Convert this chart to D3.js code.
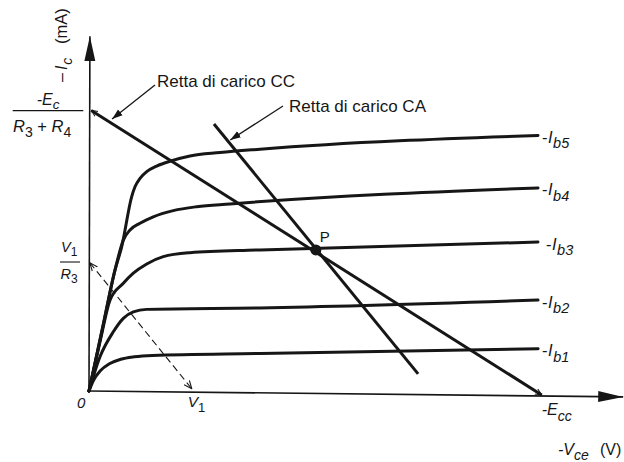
<!DOCTYPE html>
<html>
<head>
<meta charset="utf-8">
<script src="https://cdn.jsdelivr.net/npm/d3@7"></script>
<style>
  html, body { margin: 0; padding: 0; background: #fff; }
  svg { display: block; }
  text { font-family: "Liberation Sans", Arial, Helvetica, sans-serif; fill: #161616; }
</style>
</head>
<body>
<div id="chart"></div>
<script>
// ---------- data (x = -Vce, y = -Ic, arbitrary units) ----------
const curveNames = ["b1", "b2", "b3", "b4", "b5"];
const ib1 = [[0,0],[0.10,0.38],[0.25,0.72],[0.45,0.97],[0.70,1.13],[1.00,1.22],[1.40,1.27],[3.78,1.34],[9.92,1.51]];
const ib2 = [[0,0],[0.243,1.22],[0.537,2.11],[0.758,2.59],[0.979,2.82],[1.275,2.91],[3.777,2.96],[9.918,3.24]];
const ib3 = [[0,0],[0.25,1.80],[0.464,3.24],[0.758,3.84],[0.979,4.20],[1.275,4.53],[1.641,4.79],[2.231,4.93],[3.777,5.03],[9.918,5.31]];
const ib4 = [[0,0],[0.30,2.25],[0.574,4.31],[0.758,5.38],[0.906,5.74],[1.127,5.98],[1.42,6.21],[1.862,6.43],[2.379,6.57],[3.115,6.67],[9.918,7.24]];
const ib5 = [[0,0],[0.30,2.25],[0.574,4.31],[0.722,5.14],[0.943,6.93],[1.016,7.28],[1.127,7.58],[1.275,7.82],[1.495,8.02],[1.827,8.21],[2.231,8.38],[2.894,8.50],[3.777,8.62],[9.918,9.11]];
const curves = [ib1, ib2, ib3, ib4, ib5];

const loadLineCC = [[0.05,10.0],[10.0,-0.14]];   // retta di carico CC
const loadLineCA = [[2.76,9.52],[7.27,0.61]];    // retta di carico CA
const pointP = [5.01, 5.03];
const dashedV1 = [[0.02,4.57],[2.27,0.08]];
const xAxisPts = [[0,0],[11.8,-0.21]];
const yAxisPts = [[0,0],[0.02,12.65]];
const pointerCC = [[1.458,10.91],[0.51,9.70]];
const pointerCA = [[4.285,10.16],[3.12,8.95]];

const annotationTexts = ["Retta di carico CC", "Retta di carico CA"];
const xTickLabels = ["0", "V", "-E"];

// ---------- layout ----------
const W = 624, H = 462;
const x = d3.scaleLinear().domain([0, 10]).range([89, 541.7]);
const y = d3.scaleLinear().domain([0, 10]).range([391, 110.5]);
const ink = "#161616";

const svg = d3.select("#chart").append("svg").attr("width", W).attr("height", H);
svg.append("rect").attr("width", W).attr("height", H).attr("fill", "#fff");

const defs = svg.append("defs");
defs.append("marker").attr("id", "axisHead")
  .attr("markerUnits", "userSpaceOnUse").attr("viewBox", "0 -7 26 14")
  .attr("markerWidth", 26).attr("markerHeight", 14).attr("refX", 25).attr("refY", 0)
  .attr("orient", "auto")
  .append("path").attr("d", "M0,-5.5L25,0L0,5.5Z").attr("fill", ink);
defs.append("marker").attr("id", "ptrHead")
  .attr("markerUnits", "userSpaceOnUse").attr("viewBox", "0 -5 11 10")
  .attr("markerWidth", 11).attr("markerHeight", 10).attr("refX", 10.5).attr("refY", 0)
  .attr("orient", "auto")
  .append("path").attr("d", "M0,-3.6L10.5,0L0,3.6Z").attr("fill", ink);
defs.append("marker").attr("id", "dashHead")
  .attr("markerUnits", "userSpaceOnUse").attr("viewBox", "0 -5 9 10")
  .attr("markerWidth", 9).attr("markerHeight", 10).attr("refX", 8).attr("refY", 0)
  .attr("orient", "auto-start-reverse")
  .append("path").attr("d", "M0,-3.4L8,0L0,3.4").attr("fill", "none").attr("stroke", ink).attr("stroke-width", 1.1);
defs.append("marker").attr("id", "tinyHead")
  .attr("markerUnits", "userSpaceOnUse").attr("viewBox", "0 -4 7 8")
  .attr("markerWidth", 7).attr("markerHeight", 8).attr("refX", 6.5).attr("refY", 0)
  .attr("orient", "auto-start-reverse")
  .append("path").attr("d", "M0,-3L6.5,0L0,3").attr("fill", "none").attr("stroke", ink).attr("stroke-width", 1);

const line = d3.line().x(d => x(d[0])).y(d => y(d[1]));
const smooth = d3.line().x(d => x(d[0])).y(d => y(d[1])).curve(d3.curveMonotoneX);

// axes
svg.append("path").attr("d", line(xAxisPts)).attr("stroke", ink).attr("stroke-width", 1.6)
  .attr("fill", "none").attr("marker-end", "url(#axisHead)");
svg.append("path").attr("d", line(yAxisPts)).attr("stroke", ink).attr("stroke-width", 1.6)
  .attr("fill", "none").attr("marker-end", "url(#axisHead)");

// dashed V1 line
svg.append("path").attr("d", line(dashedV1)).attr("stroke", ink).attr("stroke-width", 1.1)
  .attr("stroke-dasharray", "7,4").attr("fill", "none")
  .attr("marker-start", "url(#dashHead)").attr("marker-end", "url(#dashHead)");

// characteristic curves
svg.selectAll("path.curve").data(curves).enter().append("path")
  .attr("class", "curve").attr("d", smooth)
  .attr("fill", "none").attr("stroke", ink).attr("stroke-width", 3)
  .attr("stroke-linejoin", "round").attr("stroke-linecap", "round");

// load lines
svg.append("path").attr("d", line(loadLineCC)).attr("fill", "none").attr("stroke", ink)
  .attr("stroke-width", 3).attr("stroke-linecap", "butt");
svg.append("path").attr("d", line(loadLineCC)).attr("fill", "none").attr("stroke", "none")
  .attr("marker-start", "url(#tinyHead)").attr("marker-end", "url(#tinyHead)");
svg.append("path").attr("d", line(loadLineCA)).attr("fill", "none").attr("stroke", ink)
  .attr("stroke-width", 3).attr("stroke-linecap", "butt");

// operating point
svg.append("circle").attr("cx", x(pointP[0])).attr("cy", y(pointP[1])).attr("r", 5.5).attr("fill", ink);
svg.append("text").attr("x", x(pointP[0]) + 4).attr("y", y(pointP[1]) - 7.5)
  .attr("font-size", 15).text("P");

// pointers + annotation text
[pointerCC, pointerCA].forEach(p => {
  svg.append("path").attr("d", line(p)).attr("fill", "none").attr("stroke", ink)
    .attr("stroke-width", 1.3).attr("marker-end", "url(#ptrHead)");
});
svg.append("text").attr("x", x(pointerCC[0][0]) + 2).attr("y", y(pointerCC[0][1]) + 2)
  .attr("font-size", 17).text(annotationTexts[0]);
svg.append("text").attr("x", x(pointerCA[0][0]) + 6).attr("y", y(pointerCA[0][1]) + 6)
  .attr("font-size", 17).text(annotationTexts[1]);

// helper for labels with subscripts
function mathText(px, py, size, parts, anchor) {
  const t = svg.append("text").attr("x", px).attr("y", py).attr("font-size", size)
    .attr("text-anchor", anchor || "start");
  parts.forEach(p => {
    const s = t.append("tspan").text(p.t);
    if (p.i) s.attr("font-style", "italic");
    if (p.fs) s.attr("font-size", p.fs);
    if (p.dy) s.attr("dy", p.dy);
    if (p.dx) s.attr("dx", p.dx);
  });
  return t;
}

// curve labels -I_bn
curves.forEach((c, k) => {
  const end = c[c.length - 1];
  const dx = k === 2 ? 8 : 4;
  mathText(x(end[0]) + dx, y(end[1]) + 7.5, 16.5, [
    { t: "-" }, { t: "I", i: true, dx: 0.5 }, { t: curveNames[k], i: true, fs: 14.5, dy: 5.5, dx: 0.5 }
  ]);
});

// x-axis labels
mathText(x(0) - 12, 408, 15, [{ t: xTickLabels[0], i: true }]);
mathText(x(dashedV1[1][0]) - 4, 407, 15.5, [{ t: xTickLabels[1], i: true }, { t: "1", fs: 13, dy: 5 }]);
mathText(x(loadLineCC[1][0]), 415, 16, [{ t: xTickLabels[2], i: true }, { t: "cc", i: true, fs: 14, dy: 5.5 }]);
mathText(558, 455, 16, [{ t: "-V", i: true }, { t: "ce", i: true, fs: 14, dy: 4.5 }]);
mathText(600, 455, 16, [{ t: "(V)" }]);

// y-axis label (rotated)
const yl = svg.append("text").attr("transform", "translate(67,82) rotate(-90)").attr("font-size", 16);
yl.append("tspan").text("–");
yl.append("tspan").text("I").attr("font-style", "italic").attr("dx", 3);
yl.append("tspan").text("c").attr("font-style", "italic").attr("font-size", 14).attr("dy", 4.5).attr("dx", 1);
svg.append("text").attr("transform", "translate(67,44) rotate(-90)").attr("font-size", 16.5).text("(mA)");

// -Ec / (R3 + R4)
mathText(48, 105, 16, [{ t: "-E", i: true }, { t: "c", i: true, fs: 13.5, dy: 4 }], "middle");
svg.append("line").attr("x1", 12.7).attr("x2", 83.3).attr("y1", y(10) + 0.2).attr("y2", y(10) + 0.2)
  .attr("stroke", ink).attr("stroke-width", 1.2);
mathText(13, 131.5, 16.5, [
  { t: "R", i: true }, { t: "3", fs: 14, dy: 5 }, { t: " + ", dy: -5 },
  { t: "R", i: true }, { t: "4", fs: 14, dy: 5 }
]);

// V1 / R3
mathText(61, 252, 14.5, [{ t: "V", i: true }, { t: "1", fs: 12, dy: 3.5 }]);
svg.append("line").attr("x1", 60).attr("x2", 80).attr("y1", y(dashedV1[0][1]) - 0.8).attr("y2", y(dashedV1[0][1]) - 0.8)
  .attr("stroke", ink).attr("stroke-width", 1.1);
mathText(60.5, 278.5, 14.5, [{ t: "R", i: true }, { t: "3", fs: 12, dy: 4 }]);
</script>
</body>
</html>
